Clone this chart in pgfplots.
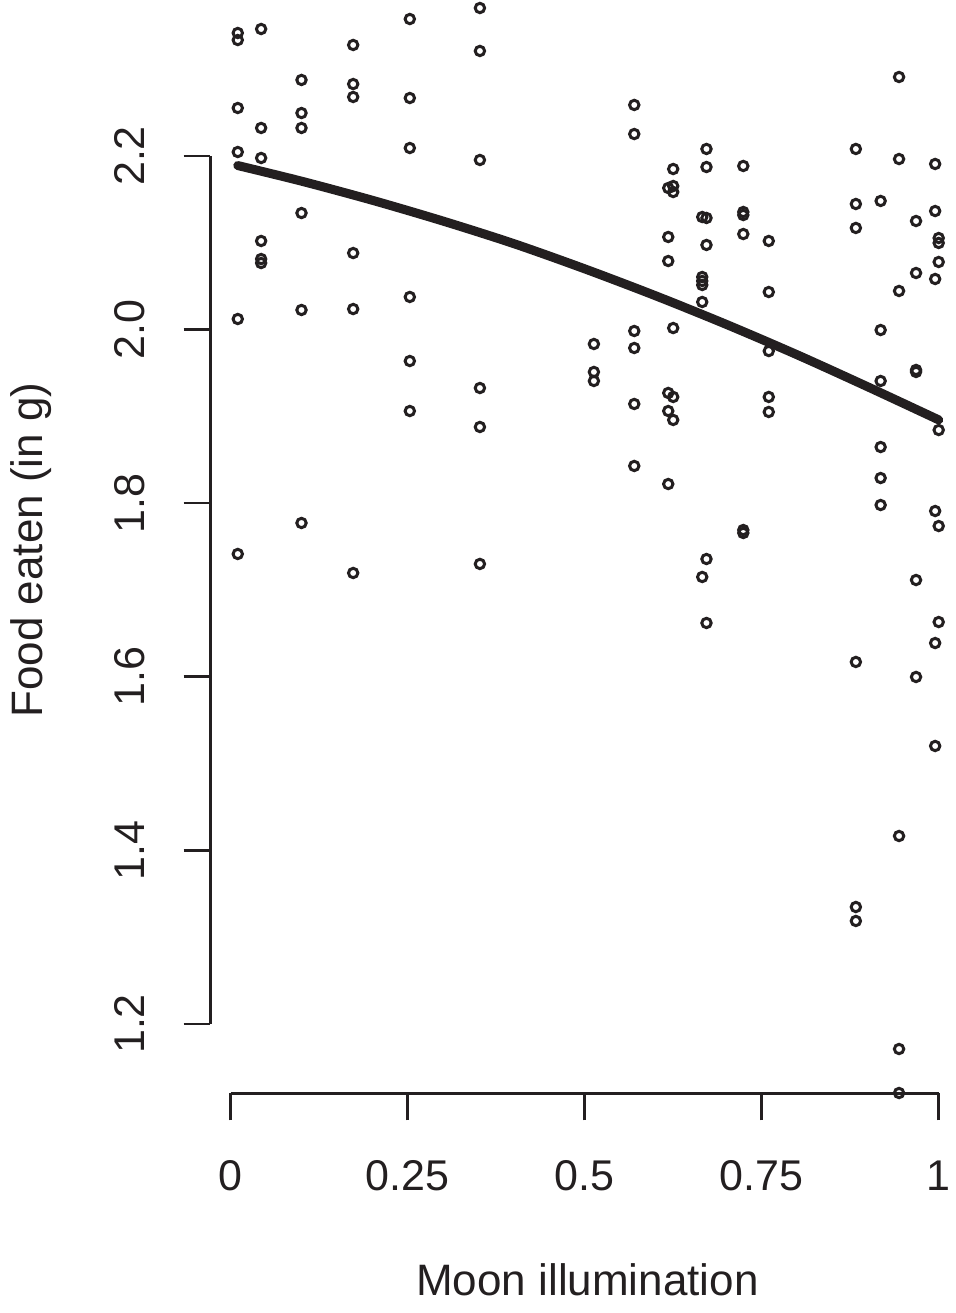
\documentclass[border=0pt]{standalone}
\usepackage{fontspec}
\setmainfont{Liberation Sans}
\usepackage{pgfplots}
\pgfplotsset{compat=1.18}
\definecolor{ink}{RGB}{35,31,32}
\begin{document}
\begin{tikzpicture}
\begin{axis}[
  at={(105.25pt,109.85pt)}, anchor=south west,
  width=372.25pt, height=546.65pt, scale only axis,
  xmin=-0.02853, xmax=1.02302, ymin=1.12016, ymax=2.37972,
  clip=false,
  axis x line*=bottom, axis y line*=left,
  axis line style={draw=none},
  xtick={0,0.25,0.5,0.75,1},
  xticklabels={0,0.25,0.5,0.75,1},
  ytick={1.2,1.4,1.6,1.8,2.0,2.2},
  yticklabels={1.2,1.4,1.6,1.8,2.0,2.2},
  tick align=outside,
  major tick length=13.5pt,
  major tick style={line width=1.3pt, ink},
  tick label style={font=\fontsize{21.5}{24}\selectfont, text=ink, inner sep=0pt},
  xticklabel style={anchor=base},
  xticklabel shift=34.85pt,
  yticklabel style={rotate=90, anchor=base},
  yticklabel shift=19.75pt,
  every axis x label/.style={at={(axis description cs:0.5064,-0.18449)}, anchor=base, inner sep=0pt, font=\fontsize{22}{26}\selectfont, text=ink},
  every axis y label/.style={at={(axis description cs:-0.2250,0.497)}, rotate=90, anchor=base, inner sep=0pt, font=\fontsize{22}{26}\selectfont, text=ink},
  xlabel={Moon illumination},
  ylabel={Food eaten (in g)},
]
\draw[line width=1.3pt, ink] (axis cs:0,1.12016) -- (axis cs:1,1.12016);
\draw[line width=1.3pt, ink] (axis cs:-0.02853,1.2) -- (axis cs:-0.02853,2.2);
\addplot[only marks, mark=o, line width=1.5pt, mark size=2.35pt, mark options={line width=1.5pt, draw=ink}] table {
x y
0.010 2.3417
0.010 2.3336
0.010 2.2553
0.010 2.2046
0.010 2.0122
0.010 1.7415
0.043 2.3463
0.043 2.2323
0.043 2.1977
0.043 2.1021
0.043 2.0813
0.043 2.0767
0.100 2.2876
0.100 2.2495
0.100 2.2323
0.100 2.1343
0.100 2.0226
0.100 1.7772
0.173 2.3279
0.173 2.2829
0.173 2.2680
0.173 2.0882
0.173 2.0237
0.173 1.7196
0.253 2.3578
0.253 2.2668
0.253 2.2092
0.253 2.0376
0.253 1.9638
0.253 1.9062
0.352 2.3705
0.352 2.3210
0.352 2.1954
0.352 1.9327
0.352 1.8878
0.352 1.7300
0.513 1.9834
0.513 1.9512
0.513 1.9408
0.570 2.2588
0.570 2.2253
0.570 1.9984
0.570 1.9788
0.570 1.9143
0.570 1.8429
0.618 2.1631
0.618 2.1067
0.618 2.0790
0.618 1.9270
0.618 1.9062
0.618 1.8221
0.625 2.1850
0.625 2.1654
0.625 2.1585
0.625 2.0018
0.625 1.9224
0.625 1.8959
0.666 2.1297
0.666 2.0606
0.666 2.0560
0.666 2.0514
0.666 2.0318
0.666 1.7150
0.672 2.2081
0.672 2.1873
0.672 2.1286
0.672 2.0975
0.672 1.7357
0.672 1.6620
0.724 2.1885
0.724 2.1355
0.724 2.1320
0.724 2.1101
0.724 1.7691
0.724 1.7657
0.760 2.1021
0.760 2.0433
0.760 1.9753
0.760 1.9224
0.760 1.9051
0.883 2.2081
0.883 2.1447
0.883 2.1171
0.883 1.6171
0.883 1.3348
0.883 1.3187
0.918 2.1482
0.918 1.9995
0.918 1.9408
0.918 1.8647
0.918 1.8290
0.918 1.7979
0.944 2.2910
0.944 2.1965
0.944 2.0445
0.944 1.4166
0.944 1.1712
0.944 1.1205
0.968 2.1251
0.968 2.0652
0.968 1.9535
0.968 1.9512
0.968 1.7115
0.968 1.5998
0.995 2.1908
0.995 2.1366
0.995 2.0583
0.995 1.7910
0.995 1.6389
0.995 1.5203
1.000 2.1055
1.000 2.0998
1.000 2.0779
1.000 1.8843
1.000 1.7737
1.000 1.6631
};
\addplot[ink, line width=4.5pt, line cap=round, smooth] coordinates {
(0.01,2.189) (0.1,2.171) (0.2,2.149) (0.3,2.125) (0.4,2.099) (0.5,2.070)
(0.6,2.039) (0.7,2.006) (0.8,1.971) (0.9,1.934) (1.0,1.896)
};
\end{axis}
\pgfresetboundingbox
\path (0,0) rectangle (477.5pt,656.5pt);
\end{tikzpicture}
\end{document}
